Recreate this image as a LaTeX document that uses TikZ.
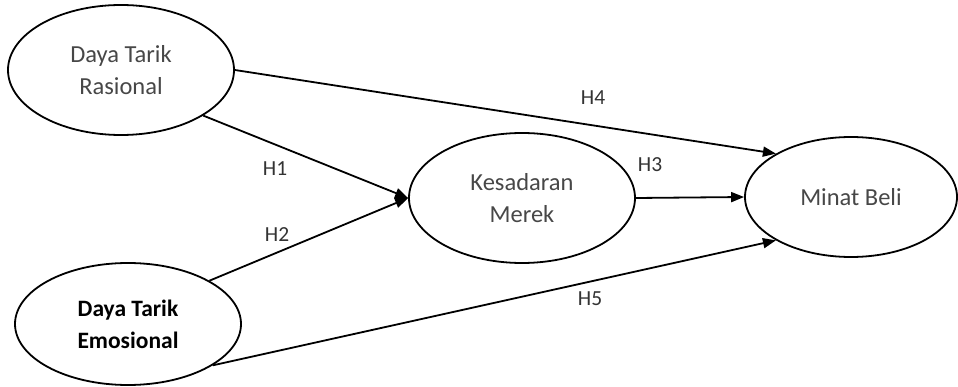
\documentclass[tikz,border=0pt]{standalone}
\usepackage{fontspec}
\setmainfont{Carlito}
\usetikzlibrary{shapes.geometric,arrows.meta}
\tikzset{
  construct/.style={draw, ellipse, line width=1.8pt, inner sep=0pt, align=center,
    text=black!72, font=\fontsize{24.5}{32}\selectfont},
  path/.style={line width=1.8pt, -{Triangle[length=13pt,width=10pt]}},
  hyp/.style={font=\fontsize{21.5}{24}\selectfont, text=black!80}
}
\begin{document}
\begin{tikzpicture}[x=1pt, y=-1pt]
        \useasboundingbox (0,0) rectangle (958,387);
        % Constructs
        \node[construct, minimum width=226pt, minimum height=130pt] (rasional) at (121,70) {Daya Tarik\\Rasional};
        \node[construct, minimum width=226pt, minimum height=122pt, text=black, font=\fontsize{23.5}{32}\selectfont\bfseries] (emosional) at (128,324) {Daya Tarik\\Emosional};
        \node[construct, minimum width=226pt, minimum height=130pt] (merek) at (522,198) {Kesadaran\\Merek};
        \node[construct, minimum width=212pt, minimum height=120pt] (minat) at (851,197) {Minat Beli};
        % Paths
        \draw[path] (rasional.east) -- (minat.150);
        \draw[path] (rasional.-29) -- (merek.west);
        \draw[path] (emosional.28) -- (merek.west);
        \draw[path] (merek.east) -- (minat.west);
        \draw[path] (emosional.-26) -- (minat.210);
        % Hypotheses
        \node[hyp] (h1) at (275,169) {H1};
        \node[hyp] (h2) at (277,235) {H2};
        \node[hyp] (h3) at (650,165) {H3};
        \node[hyp] (h4) at (593,98) {H4};
        \node[hyp] (h5) at (590,299) {H5};
      \end{tikzpicture}
\end{document}
